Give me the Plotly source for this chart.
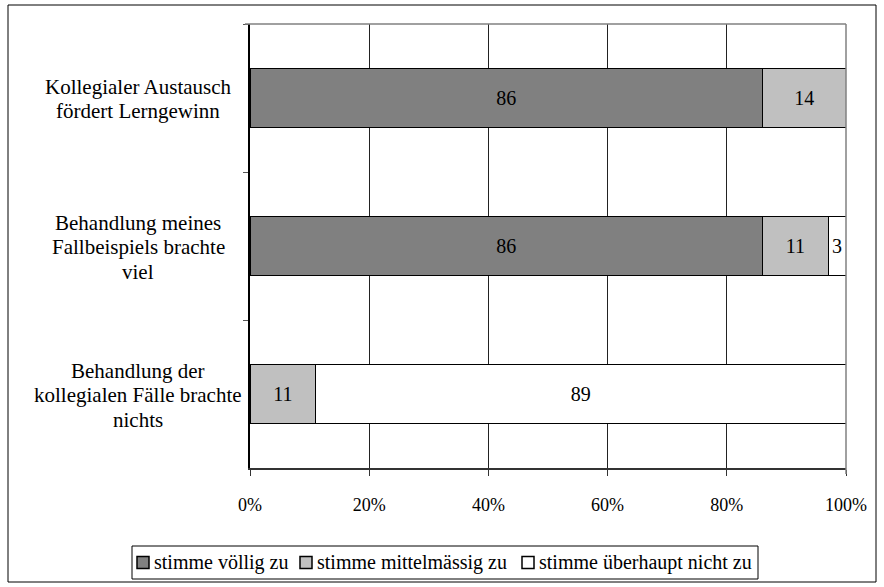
import plotly.graph_objects as go

categories = [["Kollegialer Austausch", "fördert Lerngewinn"],
              ["Behandlung meines", "Fallbeispiels brachte", "viel"],
              ["Behandlung der", "kollegialen Fälle brachte", "nichts"]]
series_names = ["stimme völlig zu", "stimme mittelmässig zu", "stimme überhaupt nicht zu"]
voellig = [86, 86, 0]
mittel = [14, 11, 11]
nicht = [0, 3, 89]
colors = ["#808080", "#C0C0C0", "#FFFFFF"]
x_ticks = [0, 20, 40, 60, 80, 100]
x_ticklabels = ["0%", "20%", "40%", "60%", "80%", "100%"]

FONT = "Liberation Serif, Times New Roman, serif"
cat_ids = ["c0", "c1", "c2"]

# plot-area geometry in pixels (for converting layout positions to paper units)
W, H = 884, 587
ML, MR, MT, MB = 250, 38, 24, 119
PW, PH = W - ML - MR, H - MT - MB


def px(x):
    return (x - ML) / PW


def py(y):
    return (H - MB - y) / PH


fig = go.Figure()
for name, vals, col in zip(series_names, [voellig, mittel, nicht], colors):
    fig.add_trace(go.Bar(
        y=cat_ids, x=vals, name=name, orientation="h",
        marker=dict(color=col, line=dict(color="#000000", width=1)),
        text=[str(v) if v else "" for v in vals],
        textposition="inside", insidetextanchor="middle",
        textfont=dict(family=FONT, size=20, color="#000000"),
        width=0.4, cliponaxis=False, showlegend=False,
    ))

LINE_H = 24.5
for cid, lines in zip(cat_ids, categories):
    n = len(lines)
    for i, ln in enumerate(lines):
        fig.add_annotation(x=px(138), xref="paper", y=cid, yref="y", text=ln,
                           showarrow=False, align="center", xanchor="center",
                           yanchor="middle", yshift=((n - 1) / 2 - i) * LINE_H - 1,
                           font=dict(family=FONT, size=21, color="#000000"))

# outer chart border
fig.add_shape(type="rect", xref="paper", yref="paper",
              x0=px(8), x1=px(876), y0=py(582), y1=py(5),
              line=dict(color="#000000", width=1), layer="below")
# plot area top/right border
fig.add_shape(type="line", xref="paper", yref="paper", x0=px(245), x1=1, y0=1, y1=1,
              line=dict(color="#808080", width=1.5))
fig.add_shape(type="line", xref="paper", yref="paper", x0=1, x1=1, y0=py(474), y1=1,
              line=dict(color="#808080", width=1.5))

# legend (drawn manually to match the compact one-row layout)
leg_left, leg_right, leg_top, leg_bot = 132, 758, 546, 579
leg_cy = (leg_top + leg_bot) / 2
fig.add_shape(type="rect", xref="paper", yref="paper",
              x0=px(leg_left), x1=px(leg_right), y0=py(leg_bot), y1=py(leg_top),
              line=dict(color="#000000", width=1), fillcolor="#FFFFFF", layer="above")
item_square_x = [137, 300, 522]
SQ = 12
for name, col, sx in zip(series_names, colors, item_square_x):
    fig.add_shape(type="rect", xref="paper", yref="paper",
                  x0=px(sx), x1=px(sx + SQ), y0=py(leg_cy + SQ / 2), y1=py(leg_cy - SQ / 2),
                  line=dict(color="#000000", width=1.5), fillcolor=col, layer="above")
    fig.add_annotation(x=px(sx + SQ + 3), xref="paper", y=py(leg_cy), yref="paper",
                       text=name, showarrow=False, xanchor="left", yanchor="middle",
                       font=dict(family=FONT, size=20, color="#000000"))

fig.update_layout(
    width=W, height=H,
    margin=dict(l=ML, r=MR, t=MT, b=MB),
    barmode="stack", bargap=0.6,
    plot_bgcolor="#FFFFFF", paper_bgcolor="#FFFFFF",
    font=dict(family=FONT, size=18, color="#000000"),
    showlegend=False,
    xaxis=dict(range=[0, 100], tickvals=x_ticks, ticktext=x_ticklabels,
               showgrid=True, gridcolor="#222222", gridwidth=1,
               showline=True, linecolor="#333333", linewidth=1.5,
               ticks="outside", ticklen=6, tickcolor="#333333",
               ticklabelstandoff=14,
               zeroline=False, fixedrange=True,
               tickfont=dict(family=FONT, size=18)),
    yaxis=dict(type="category", categoryarray=cat_ids, autorange="reversed",
               showticklabels=False, ticks="outside", tickson="boundaries",
               ticklen=5, tickcolor="#555555",
               showline=True, linecolor="#000000", linewidth=1.5,
               showgrid=False, zeroline=False),
)

fig.write_html("out.html", config={"displayModeBar": False},
               post_script="document.body.style.margin='0px';")
